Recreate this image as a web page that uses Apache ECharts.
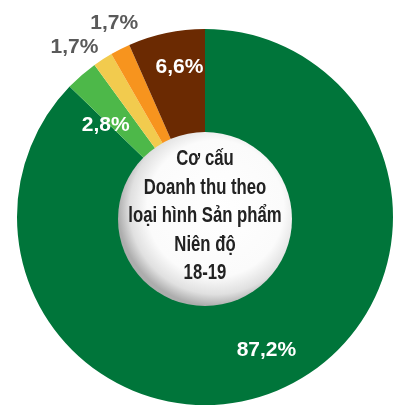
<!DOCTYPE html>
<html><head><meta charset="utf-8">
<script src="https://cdn.jsdelivr.net/npm/echarts@6/dist/echarts.min.js"></script>
<style>html,body{margin:0;padding:0;background:#fff}#c{width:395px;height:406px}</style>
</head><body><div id="c"></div>
<script>
var categories = ['A', 'B', 'C', 'D', 'E'];
var values = [87.2, 2.8, 1.7, 1.7, 6.6];
var labels = ['87,2%', '2,8%', '1,7%', '1,7%', '6,6%'];
var colors = ['#00753A', '#4DB849', '#F2CB4E', '#F7941E', '#6B2A02'];
var labelColors = ['#ffffff', '#ffffff', '#5a5a5a', '#5a5a5a', '#ffffff'];
var labelShift = [[7, 5], [-8, 13], [-55, -53], [-28, -70], [3, -14]];
var centerTitle = 'Cơ cấu\nDoanh thu theo\nloại hình Sản phẩm\nNiên độ\n18-19';

var FONT = '"Liberation Sans",Arial,sans-serif';
var chart = echarts.init(document.getElementById('c'), null, {renderer: 'canvas'});
var data = categories.map(function (c, i) {
  return {
    name: c, value: values[i],
    itemStyle: {color: colors[i]},
    label: {formatter: labels[i], color: labelColors[i]}
  };
});
chart.setOption({
  animation: false,
  series: [{
    type: 'pie',
    center: [205, 217],
    radius: [84, 188],
    startAngle: 90,
    clockwise: true,
    data: data,
    itemStyle: {borderWidth: 0},
    label: {show: true, position: 'inside', fontFamily: FONT, fontWeight: 'bold', fontSize: 21},
    labelLine: {show: false},
    labelLayout: function (p) {
      var s = labelShift[p.dataIndex];
      return {dx: s[0], dy: s[1]};
    },
    emphasis: {disabled: true}
  }],
  graphic: [{
    type: 'circle',
    shape: {cx: 205, cy: 219, r: 87},
    style: {
      fill: new echarts.graphic.RadialGradient(0.56, 0.44, 0.56, [
        {offset: 0, color: '#ffffff'},
        {offset: 0.7, color: '#fbfbfb'},
        {offset: 0.88, color: '#e0e0e0'},
        {offset: 1, color: '#adadad'}
      ])
    },
    z: 10
  }, {
    type: 'text',
    x: 205, y: 216,
    scaleX: 0.76,
    style: {
      text: centerTitle,
      textAlign: 'center', textVerticalAlign: 'middle',
      font: 'bold 22px ' + FONT,
      lineHeight: 28.5,
      fill: '#222222'
    },
    z: 11
  }]
});
</script></body></html>
